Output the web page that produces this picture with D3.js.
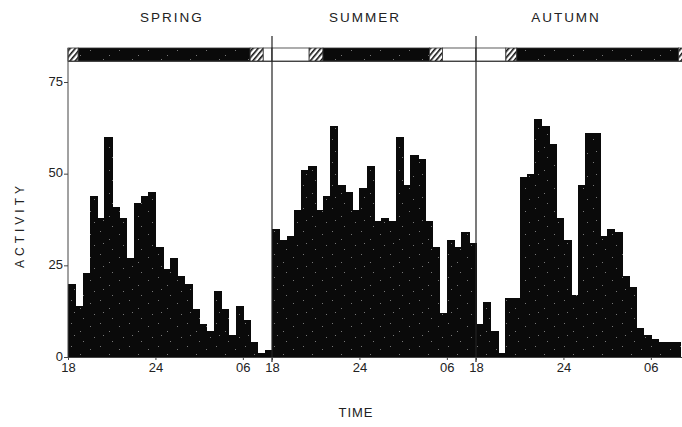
<!DOCTYPE html>
<html>
<head>
<meta charset="utf-8">
<script src="https://cdnjs.cloudflare.com/ajax/libs/d3/7.8.5/d3.min.js"></script>
<style>
body{margin:0;background:#fff;}
text{font-family:"Liberation Sans",Arial,sans-serif;fill:#222;}
</style>
</head>
<body>
<div id="chart"></div>
<script>
// activity counts per half-hour bin, 18:00 -> 08:00
var seasons=["SPRING","SUMMER","AUTUMN"];
var spring=[20,14,23,44,38,60,41,38,27,42,44,45,30,24,27,22,20,13,9,7,18,13,6,14,10,4,1,2];
var summer=[35,32,33,40,51,52,40,44,63,47,45,40,46,52,37,38,37,60,47,55,54,37,30,12,32,30,34,31];
var autumn=[9,15,7,1,16,16,49,50,65,63,58,38,32,17,47,61,61,33,35,34,22,19,8,6,5,4,4,4];
var yTicks=[0,25,50,75];
var hourTicks=[0,6,12];       // hours after 18:00
var hourLabels=["18","24","06"];
// light regime bar: [from hour, to hour, kind]
var springLight=[[0,0.7,"twi"],[0.7,12.5,"dark"],[12.5,13.4,"twi"],[13.4,14,"light"]];
var summerLight=[[0,2.55,"light"],[2.55,3.5,"twi"],[3.5,10.8,"dark"],[10.8,11.7,"twi"],[11.7,14,"light"]];
var autumnLight=[[0,2.05,"light"],[2.05,2.8,"twi"],[2.8,13.9,"dark"],[13.9,14.6,"twi"]];

var W=682,H=427, span=14, binH=0.5;
var left=68, right=680, base=357, top75=82;
var allData=[spring,summer,autumn], allLight=[springLight,summerLight,autumnLight];
var titleShift=[2,-9,-12];

var svg=d3.select("#chart").append("svg").attr("width",W).attr("height",H);

var defs=svg.append("defs");
var st=defs.append("pattern").attr("id","stip").attr("patternUnits","userSpaceOnUse")
	.attr("width",29).attr("height",23);
st.append("rect").attr("width",29).attr("height",23).attr("fill","#0a0a0a");
[[3,4],[13,1],[22,9],[7,15],[25,19],[16,13]].forEach(function(p){
	st.append("rect").attr("x",p[0]).attr("y",p[1]).attr("width",1).attr("height",1).attr("fill","#777");
});
var ht=defs.append("pattern").attr("id","hatch").attr("patternUnits","userSpaceOnUse")
	.attr("width",4).attr("height",4).attr("patternTransform","rotate(40)");
ht.append("rect").attr("width",4).attr("height",4).attr("fill","#fff");
ht.append("rect").attr("width",1.6).attr("height",4).attr("fill","#111");

var x=d3.scaleLinear().domain([0,span*3]).range([left,right]);
var y=d3.scaleLinear().domain([0,75]).range([base,top75]);

// bars
allData.forEach(function(vals,p){
	svg.append("g").attr("shape-rendering","crispEdges")
		.selectAll("rect").data(vals).enter().append("rect")
		.attr("x",function(d,i){return x(p*span+i*binH);})
		.attr("width",function(d,i){return x(p*span+(i+1)*binH)-x(p*span+i*binH)+0.8;})
		.attr("y",function(d){return y(d);})
		.attr("height",function(d){return base-y(d);})
		.attr("fill","url(#stip)");
});

// light / dark bar on top
var barTop=48, barBot=61;
allLight.forEach(function(segs,p){
	svg.append("g").selectAll("rect").data(segs).enter().append("rect")
		.attr("x",function(d){return x(p*span+d[0]);})
		.attr("width",function(d){return x(p*span+d[1])-x(p*span+d[0]);})
		.attr("y",barTop).attr("height",barBot-barTop)
		.attr("fill",function(d){return d[2]=="dark"?"url(#stip)":d[2]=="twi"?"url(#hatch)":"#fff";})
		.attr("stroke","#333").attr("stroke-width",0.8);
});
svg.append("line").attr("x1",left).attr("x2",W).attr("y1",barBot+0.5).attr("y2",barBot+0.5)
	.attr("stroke","#444").attr("stroke-width",1.2);

// season dividers
[1,2].forEach(function(p){
	svg.append("line").attr("x1",x(p*span)).attr("x2",x(p*span))
		.attr("y1",36).attr("y2",362).attr("stroke","#222").attr("stroke-width",1.2);
});

// season titles
svg.selectAll("text.season").data(seasons).enter().append("text")
	.attr("class","season")
	.attr("x",function(d,i){return x(i*span+span/2)+titleShift[i];})
	.attr("y",22).attr("text-anchor","middle")
	.style("font-size","13.5px").style("letter-spacing","2px")
	.text(function(d){return d;});

// y axis
var yAxis=d3.axisLeft(y).tickValues(yTicks).tickSize(4).tickPadding(1);
var yg=svg.append("g").attr("transform","translate("+left+",0)").call(yAxis);
yg.select(".domain").remove();
yg.append("line").attr("y1",base).attr("y2",barTop).attr("stroke","#444").attr("stroke-width",1);
yg.selectAll("text").style("font-size","13px").attr("fill","#333").attr("dy","0.25em");
yg.selectAll(".tick line").attr("stroke","#444");

// x axis
var xVals=[], xLab={};
[0,1,2].forEach(function(p){
	hourTicks.forEach(function(h,k){xVals.push(p*span+h); xLab[p*span+h]=hourLabels[k];});
});
var xAxis=d3.axisBottom(x).tickValues(xVals).tickSize(3).tickPadding(3)
	.tickFormat(function(d){return xLab[d];});
var xg=svg.append("g").attr("transform","translate(0,"+base+")").call(xAxis);
xg.select(".domain").attr("d","M"+left+",0.5H"+W).attr("stroke","#444");
xg.selectAll("text").style("font-size","13px").attr("fill","#333");
xg.selectAll(".tick line").attr("stroke","#444");

// axis titles
svg.append("text").attr("transform","translate(24,"+(y(36))+") rotate(-90)")
	.attr("text-anchor","middle").style("font-size","12px").style("letter-spacing","4px")
	.text("ACTIVITY");
svg.append("text").attr("x",356).attr("y",417).attr("text-anchor","middle")
	.style("font-size","13px").style("letter-spacing","1px").text("TIME");
</script>
</body>
</html>
